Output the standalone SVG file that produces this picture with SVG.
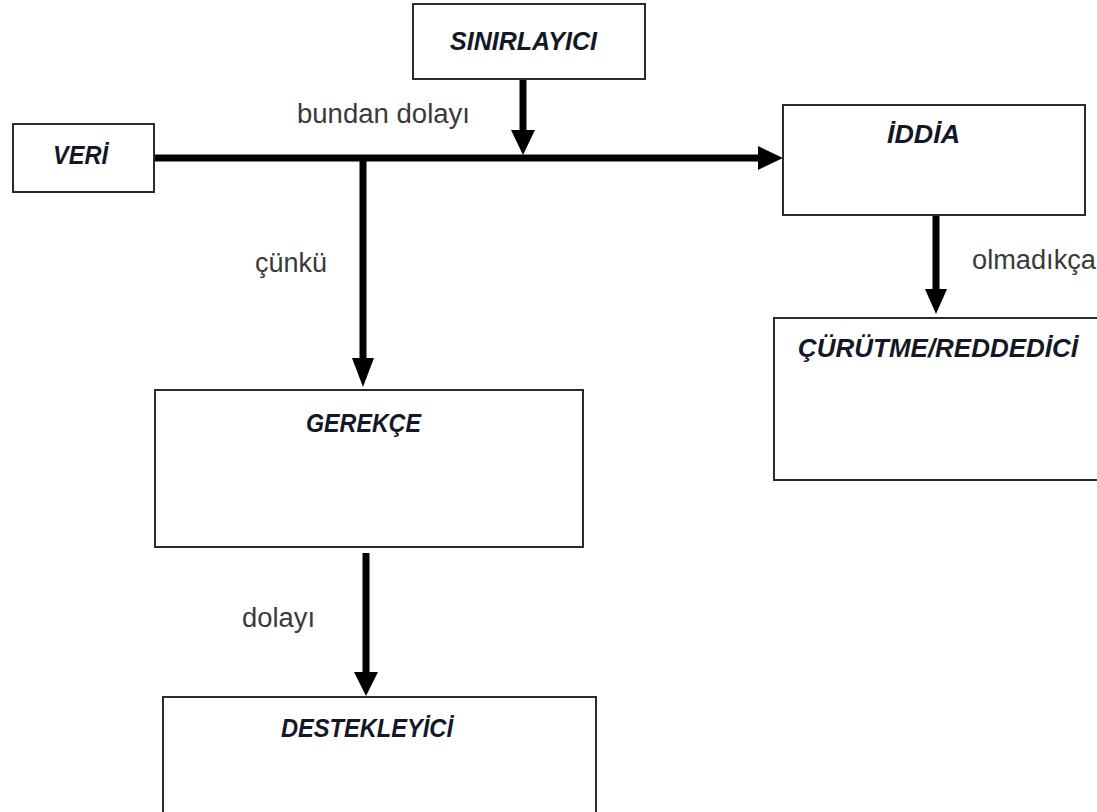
<svg xmlns="http://www.w3.org/2000/svg" width="1097" height="812" viewBox="0 0 1097 812">
<style>
.box{fill:#fff;stroke:#2b2b2b;stroke-width:2}
.t{font-family:"Liberation Sans",Arial,sans-serif;font-weight:bold;font-style:italic;font-size:26px;fill:#141826}
.l{font-family:"Liberation Sans",Arial,sans-serif;font-size:27px;fill:#3a3a3a}
.c{stroke:#000;stroke-width:7;fill:none}
.h{fill:#000;stroke:none}
</style>
<rect width="1097" height="812" fill="#fff"/>
<g id="connectors">
<line class="c" x1="154" y1="158" x2="762" y2="158"/>
<polygon class="h" points="758,146 783,158 758,170"/>
<line class="c" x1="523" y1="79" x2="523" y2="133"/>
<polygon class="h" points="511,130 535,130 523,155"/>
<line class="c" x1="363" y1="158" x2="363" y2="361"/>
<polygon class="h" points="352,358 374,358 363,387"/>
<line class="c" x1="936" y1="215" x2="936" y2="292"/>
<polygon class="h" points="925,289 947,289 936,314"/>
<line class="c" x1="366" y1="553" x2="366" y2="675"/>
<polygon class="h" points="354,672 378,672 366,696"/>
<text class="l" x="297" y="123" textLength="173" lengthAdjust="spacingAndGlyphs">bundan dolayı</text>
<text class="l" x="255" y="272" textLength="72" lengthAdjust="spacingAndGlyphs">çünkü</text>
<text class="l" x="972" y="269" textLength="124" lengthAdjust="spacingAndGlyphs">olmadıkça</text>
<text class="l" x="242" y="627" textLength="73" lengthAdjust="spacingAndGlyphs">dolayı</text>
</g>
<g id="node-sinirlayici">
<rect class="box" x="413" y="4" width="232" height="75"/>
<text class="t" x="450" y="50" textLength="147" lengthAdjust="spacingAndGlyphs">SINIRLAYICI</text>
</g>
<g id="node-veri">
<rect class="box" x="13" y="124" width="141" height="68"/>
<text class="t" x="53" y="164" textLength="55" lengthAdjust="spacingAndGlyphs">VERİ</text>
</g>
<g id="node-iddia">
<rect class="box" x="783" y="105" width="302" height="110"/>
<text class="t" x="887" y="143" textLength="73" lengthAdjust="spacingAndGlyphs">İDDİA</text>
</g>
<g id="node-curutme">
<rect class="box" x="774" y="318" width="340" height="162"/>
<text class="t" x="798" y="357" textLength="280" lengthAdjust="spacingAndGlyphs">ÇÜRÜTME/REDDEDİCİ</text>
</g>
<g id="node-gerekce">
<rect class="box" x="155" y="390" width="428" height="157"/>
<text class="t" x="306" y="432" textLength="115" lengthAdjust="spacingAndGlyphs">GEREKÇE</text>
</g>
<g id="node-destekleyici">
<rect class="box" x="163" y="697" width="433" height="130"/>
<text class="t" x="281" y="737" textLength="172" lengthAdjust="spacingAndGlyphs">DESTEKLEYİCİ</text>
</g>
</svg>
